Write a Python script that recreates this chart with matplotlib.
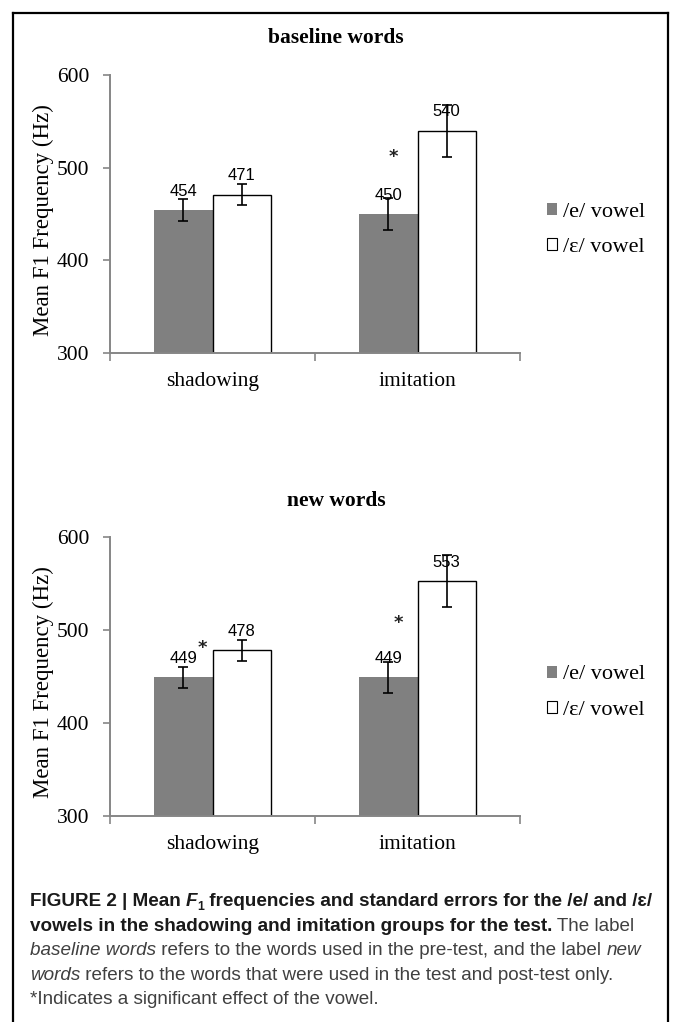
import matplotlib
matplotlib.use("Agg")
import matplotlib.pyplot as plt
from matplotlib.patches import Patch
from matplotlib.lines import Line2D

# dane
grupy = ["shadowing", "imitation"]
seria_nazwy = ["/e/ vowel", "/\u025b/ vowel"]

baseline_e = [454, 450]
baseline_eps = [471, 540]
baseline_e_err = [12, 17]
baseline_eps_err = [11, 28]

new_e = [449, 449]
new_eps = [478, 553]
new_e_err = [11, 17]
new_eps_err = [11, 28]

# gwiazdki istotnosci (x w jednostkach kategorii, y w Hz)
baseline_gw_x = [0.88]
baseline_gw_y = [511]
new_gw_x = [-0.05, 0.905]
new_gw_y = [481, 507]

W, H = 673, 1022
fig = plt.figure(figsize=(W / 100, H / 100), dpi=100)

SERIF = "Liberation Serif"
SZARY = "#808080"
OS = "#868686"
szer = 0.283


def rysuj_panel(rect, tytul, tytul_y, e, eps, e_err, eps_err, gw_x, gw_y):
    ax = fig.add_axes(rect)
    xs = list(range(len(grupy)))
    xe = [x - szer / 2 for x in xs]
    xw = [x + szer / 2 for x in xs]
    ax.bar(xe, e, width=szer, color=SZARY, edgecolor="none", zorder=2)
    ax.bar(xw, eps, width=szer, color="white", edgecolor="black", linewidth=1.0, zorder=2)
    ax.errorbar(xe, e, yerr=e_err, fmt="none", ecolor="black", elinewidth=1.2,
                capsize=3.5, capthick=1.2, zorder=3)
    ax.errorbar(xw, eps, yerr=eps_err, fmt="none", ecolor="black", elinewidth=1.2,
                capsize=3.5, capthick=1.2, zorder=3)
    for x, v in list(zip(xe, e)) + list(zip(xw, eps)):
        ax.annotate(str(v), (x, v), xytext=(0, 8), textcoords="offset points",
                    ha="center", va="bottom", fontsize=12, family="Liberation Sans",
                    zorder=4)
    for x, y in zip(gw_x, gw_y):
        ax.text(x, y, "*", ha="center", va="center", fontsize=13, family="DejaVu Sans",
                fontweight="bold", color="#222222", zorder=4)

    ax.set_ylim(300, 600)
    ax.set_xlim(-0.5, 1.5)
    ax.set_yticks([300, 400, 500, 600])
    ax.set_yticklabels(["300", "400", "500", "600"], family=SERIF, fontsize=15.5)
    ax.set_xticks([-0.5, 0.5, 1.5])
    ax.set_xticklabels([])
    ax.set_xticks(xs, minor=True)
    ax.set_xticklabels(grupy, minor=True, family=SERIF, fontsize=15.5)
    ax.tick_params(axis="x", which="minor", length=0, pad=14)
    ax.tick_params(axis="x", which="major", length=6, color=OS, width=1.2)
    ax.tick_params(axis="y", length=5, color=OS, width=1.2, pad=10)
    for s in ["top", "right"]:
        ax.spines[s].set_visible(False)
    for s in ["left", "bottom"]:
        ax.spines[s].set_color(OS)
        ax.spines[s].set_linewidth(1.4)

    # opis osi Y i tytul w pikselach figury
    dol = (1 - rect[1]) * H
    gora = dol - rect[3] * H
    fig.text(43 / W, 1 - ((gora + dol) / 2 + 6) / H, "Mean F1 Frequency (Hz)",
             family=SERIF, fontsize=16.5, rotation=90, ha="center", va="center")
    fig.text(336 / W, 1 - tytul_y / H, tytul, family=SERIF, fontsize=15.5,
             fontweight="bold", ha="center", va="center")

    uchwyty = [Patch(facecolor=SZARY, edgecolor="none"),
               Patch(facecolor="white", edgecolor="black", linewidth=0.8)]
    ax.legend(uchwyty, seria_nazwy, loc="center left", bbox_to_anchor=(1.044, 0.442),
              frameon=False, prop={"family": SERIF, "size": 16},
              handlelength=0.45, handleheight=0.45, handletextpad=0.27,
              labelspacing=0.74, borderaxespad=0)
    return ax


rysuj_panel([110 / W, 1 - 353 / H, 410 / W, 278 / H], "baseline words", 38,
            baseline_e, baseline_eps, baseline_e_err, baseline_eps_err,
            baseline_gw_x, baseline_gw_y)
rysuj_panel([110 / W, 1 - 816 / H, 410 / W, 279 / H], "new words", 501,
            new_e, new_eps, new_e_err, new_eps_err, new_gw_x, new_gw_y)

# ramka
for xy in [([13 / W, 13 / W], [0, 1 - 13 / H]),
           ([668 / W, 668 / W], [0, 1 - 13 / H]),
           ([13 / W, 668 / W], [1 - 13 / H, 1 - 13 / H])]:
    fig.add_artist(Line2D(xy[0], xy[1], color="black", linewidth=1.6))

# podpis
renderer = fig.canvas.get_renderer()
CAP = "Liberation Sans"
ROZ = 13.6
b = dict(family=CAP, fontsize=ROZ, fontweight="bold", color="#1a1a1a")
bi = dict(family=CAP, fontsize=ROZ, fontweight="bold", style="italic", color="#1a1a1a")
sub = dict(family=CAP, fontsize=ROZ * 0.65, fontweight="bold", color="#1a1a1a")
n = dict(family=CAP, fontsize=ROZ, color="#404040")
it = dict(family=CAP, fontsize=ROZ, style="italic", color="#404040")

linie = [
    [("FIGURE 2 | Mean ", b, 0), ("F", bi, 0), ("1", sub, -4),
     (" frequencies and standard errors for the /e/ and /\u025b/", b, 0)],
    [("vowels in the shadowing and imitation groups for the test.", b, 0),
     (" The label", n, 0)],
    [("baseline words", it, 0), (" refers to the words used in the pre-test, and the label ", n, 0),
     ("new", it, 0)],
    [("words", it, 0), (" refers to the words that were used in the test and post-test only.", n, 0)],
    [("*Indicates a significant effect of the vowel.", n, 0)],
]
y0 = 906
for i, linia in enumerate(linie):
    x = 30
    y = y0 + i * 24.5
    for tekst, styl, dy in linia:
        t = fig.text(x / W, 1 - (y - dy) / H, tekst, va="baseline", ha="left", **styl)
        x += t.get_window_extent(renderer).width

fig.savefig("out.png", dpi=100)
